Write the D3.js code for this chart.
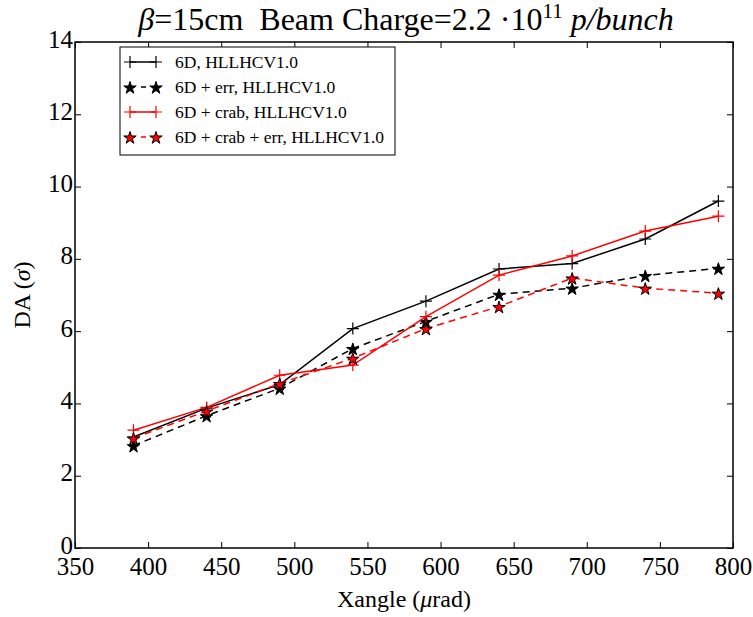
<!DOCTYPE html>
<html>
<head>
<meta charset="utf-8">
<script src="https://cdn.jsdelivr.net/npm/d3@7"></script>
<style>
  body { margin: 0; background: #fff; }
  svg text { font-family: "Liberation Serif", "DejaVu Serif", serif; }
</style>
</head>
<body>
<svg id="chart" width="753" height="617"></svg>
<script>
// Data
const xangle = [390, 440, 490, 540, 590, 640, 690, 740, 790];
const da6D = [3.07, 3.87, 4.52, 6.07, 6.83, 7.72, 7.87, 8.55, 9.6];
const da6DErr = [2.83, 3.66, 4.42, 5.52, 6.27, 7.02, 7.19, 7.54, 7.74];
const da6DCrab = [3.26, 3.89, 4.78, 5.06, 6.4, 7.55, 8.08, 8.77, 9.18];
const da6DCrabErr = [3.04, 3.79, 4.55, 5.25, 6.07, 6.68, 7.47, 7.19, 7.05];
const xTicks = [350, 400, 450, 500, 550, 600, 650, 700, 750, 800];
const yTicks = [0, 2, 4, 6, 8, 10, 12, 14];

const series = [
    {label: "6D, HLLHCV1.0", values: da6D, color: "#000", dash: null, marker: "plus", fill: null},
    {label: "6D + err,  HLLHCV1.0", values: da6DErr, color: "#000", dash: "7,5", marker: "star", fill: "#000"},
    {label: "6D + crab, HLLHCV1.0", values: da6DCrab, color: "#f00", dash: null, marker: "plus", fill: null},
    {label: "6D + crab + err, HLLHCV1.0", values: da6DCrabErr, color: "#f00", dash: "7,5", marker: "star", fill: "#f00"}
];

const margin = {top: 42, right: 20, bottom: 69, left: 75};
const width = 753, height = 617;
const graphWidth = width - margin.left - margin.right;
const graphHeight = height - margin.top - margin.bottom;

const x = d3.scaleLinear().domain([350, 800]).range([0, graphWidth]);
const y = d3.scaleLinear().domain([0, 14]).range([graphHeight, 0]);

const svg = d3.select("#chart");
const g = svg.append("g").attr("transform", `translate(${margin.left},${margin.top})`);

// Axes, ticks inward on all sides
const tickLen = 6;
const bottomAxis = g.append("g").attr("transform", `translate(0,${graphHeight})`)
    .call(d3.axisBottom(x).tickValues(xTicks).tickSizeInner(-tickLen).tickSizeOuter(0).tickPadding(9));
const leftAxis = g.append("g")
    .call(d3.axisLeft(y).tickValues(yTicks).tickSizeInner(-tickLen).tickSizeOuter(0).tickPadding(2));
g.append("g").call(d3.axisTop(x).tickValues(xTicks).tickSizeInner(-tickLen).tickSizeOuter(0).tickFormat(""));
g.append("g").attr("transform", `translate(${graphWidth},0)`)
    .call(d3.axisRight(y).tickValues(yTicks).tickSizeInner(-tickLen).tickSizeOuter(0).tickFormat(""));

g.selectAll(".domain").remove();
g.selectAll(".tick line").attr("stroke", "#000").attr("stroke-width", 1);
bottomAxis.selectAll("text").style("font-size", "25px").attr("fill", "#000");
leftAxis.selectAll("text").style("font-size", "25px").attr("fill", "#000").attr("dy", "0.2em");

g.append("rect").attr("width", graphWidth).attr("height", graphHeight)
    .attr("fill", "none").attr("stroke", "#000").attr("stroke-width", 1.5);

// Markers
const starPath = d3.symbol().type(d3.symbolStar).size(48);
function drawMarker(sel, s, cx, cy) {
    if (s.marker === "plus") {
        sel.append("path")
            .attr("d", `M${cx - 6},${cy}H${cx + 6}M${cx},${cy - 6}V${cy + 6}`)
            .attr("stroke", s.color).attr("stroke-width", 1.2).attr("fill", "none");
    } else {
        sel.append("path").attr("d", starPath())
            .attr("transform", `translate(${cx},${cy + 1})`)
            .attr("fill", s.fill).attr("stroke", "#000").attr("stroke-width", 1);
    }
}

// Lines
const line = d3.line().x(d => x(d[0])).y(d => y(d[1]));
series.forEach(s => {
    const pts = xangle.map((v, i) => [v, s.values[i]]);
    g.append("path").datum(pts).attr("d", line)
        .attr("fill", "none").attr("stroke", s.color).attr("stroke-width", 1.5)
        .attr("stroke-dasharray", s.dash);
    const mg = g.append("g");
    pts.forEach(p => drawMarker(mg, s, x(p[0]), y(p[1])));
});

// Legend
const legend = g.append("g").attr("transform", "translate(45,5)");
legend.append("rect").attr("width", 275).attr("height", 108)
    .attr("fill", "#fff").attr("stroke", "#000").attr("stroke-width", 1);
series.forEach((s, i) => {
    const ly = 15 + i * 25;
    legend.append("line").attr("x1", 10).attr("x2", 36).attr("y1", ly).attr("y2", ly)
        .attr("stroke", s.color).attr("stroke-width", 1.5).attr("stroke-dasharray", s.dash ? "5,6" : null);
    drawMarker(legend, s, 10, ly);
    drawMarker(legend, s, 36, ly);
    legend.append("text").attr("x", 55).attr("y", ly).attr("dy", "0.35em")
        .style("font-size", "17.5px").text(s.label);
});

// Axis labels
svg.append("text").attr("x", margin.left + graphWidth / 2).attr("y", 607)
    .attr("text-anchor", "middle").style("font-size", "24px")
    .html('Xangle (<tspan font-style="italic">μ</tspan>rad)');
svg.append("text").attr("transform", `translate(30,${margin.top + graphHeight / 2}) rotate(-90)`)
    .attr("text-anchor", "middle").style("font-size", "24px")
    .html('DA (<tspan font-style="italic">σ</tspan>)');

// Title
svg.append("text").attr("x", margin.left + graphWidth / 2 + 2).attr("y", 30)
    .attr("text-anchor", "middle").style("font-size", "32px")
    .html('<tspan font-style="italic">β</tspan>=15cm  Beam Charge=2.2 ·10<tspan dy="-12" font-size="21px">11</tspan><tspan dy="12"> </tspan><tspan font-style="italic">p/bunch</tspan>')
    .style("white-space", "pre");
</script>
</body>
</html>
